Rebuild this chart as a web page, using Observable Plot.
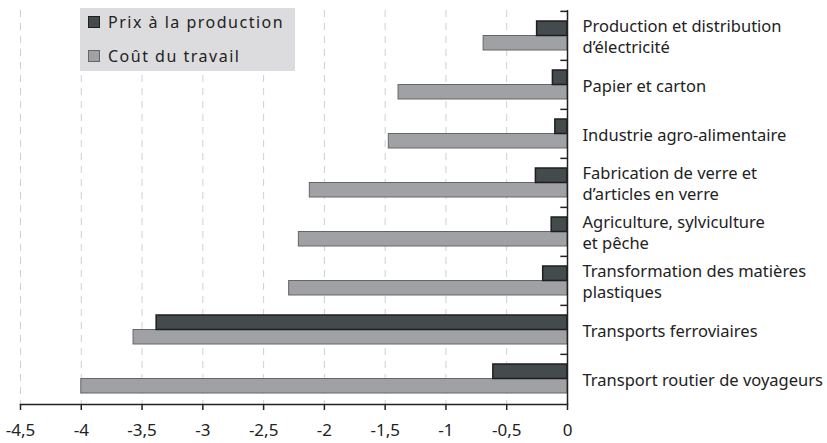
<!DOCTYPE html>
<html>
<head>
<meta charset="utf-8">
<script src="https://cdn.jsdelivr.net/npm/d3@7"></script>
<script src="https://cdn.jsdelivr.net/npm/@observablehq/plot@0.6"></script>
<style>
  html, body { margin: 0; padding: 0; background: #fff; }
  #wrap { position: relative; width: 827px; height: 443px; }
  #wrap svg { display: block; }
  #legend {
    position: absolute; left: 80px; top: 8px; width: 215px; height: 63px;
    background: #dcdcde; font-family: "Noto Sans", sans-serif; font-size: 16px;
    letter-spacing: 1.5px; color: #222;
  }
  .item { position: absolute; left: 8px; display: flex; align-items: center; white-space: nowrap; line-height: 20px; }
  .sw { width: 10px; height: 10px; margin-right: 8px; box-sizing: content-box; }
</style>
</head>
<body>
<div id="wrap">
  <div id="legend">
    <div class="item" style="top:4px"><span class="sw" style="background:#434b4d;border:1.5px solid #1e1e1e"></span>Prix à la production</div>
    <div class="item" style="top:38px"><span class="sw" style="background:#a0a1a4;border:1px solid #666"></span>Coût du travail</div>
  </div>
</div>
<script>
const categories = [
  "Production et distribution\nd’électricité",
  "Papier et carton",
  "Industrie agro-alimentaire",
  "Fabrication de verre et\nd’articles en verre",
  "Agriculture, sylviculture\net pêche",
  "Transformation des matières\nplastiques",
  "Transports ferroviaires",
  "Transport routier de voyageurs"
];
const prixProduction = [-0.25, -0.12, -0.10, -0.26, -0.13, -0.20, -3.38, -0.61];
const coutTravail = [-0.69, -1.39, -1.47, -2.12, -2.21, -2.29, -3.57, -4.00];
const xTicks = [-4.5, -4, -3.5, -3, -2.5, -2, -1.5, -1, -0.5, 0];
const gridTicks = [-4.5, -4, -3.5, -3, -2.5, -2, -1.5, -1, -0.5];

const rows = categories.map((c, i) => ({category: c, prix: prixProduction[i], cout: coutTravail[i]}));

const W = 827, H = 443, mTop = 10, mBottom = 39;
const band = (H - mTop - mBottom) / categories.length;

const chart = Plot.plot({
  width: W,
  height: H,
  marginLeft: 20,
  marginRight: 260,
  marginTop: mTop,
  marginBottom: mBottom,
  style: {fontFamily: "Noto Sans, sans-serif", fontSize: "16px", color: "#222", background: "#fff"},
  x: {domain: [-4.5, 0]},
  y: {type: "band", domain: categories, padding: 0, axis: null},
  marks: [
    Plot.ruleX(gridTicks, {stroke: "#cfcfcf", strokeWidth: 1, strokeDasharray: "7,6"}),
    Plot.barX(rows, {x1: 0, x2: "cout", y: "category", insetTop: 24.5, insetBottom: 10,
      fill: "#a0a1a4", stroke: "#666", strokeWidth: 1}),
    Plot.barX(rows, {x1: 0, x2: "prix", y: "category", insetTop: 10, insetBottom: 24.5,
      fill: "#434b4d", stroke: "#1e1e1e", strokeWidth: 1.5}),
    Plot.ruleX([0], {stroke: "#222", strokeWidth: 1.5}),
    Plot.ruleY(categories, {y: d => d, x1: -0.055, x2: 0, dy: -band / 2, stroke: "#222", strokeWidth: 1.5}),
    Plot.frame({anchor: "bottom", stroke: "#222", strokeWidth: 1.5}),
    Plot.axisX({ticks: xTicks, tickSize: 6, tickPadding: 13, stroke: "#222", strokeWidth: 1.5,
      tickFormat: d => String(d).replace(".", ","), fontSize: 17, fill: "#222"}),
    Plot.text(categories, {x: 0, y: d => d, text: d => d, dx: 15, textAnchor: "start",
      fontSize: 16.5, lineHeight: 1.27, fill: "#222"})
  ]
});
document.getElementById("wrap").prepend(chart);
</script>
</body>
</html>
